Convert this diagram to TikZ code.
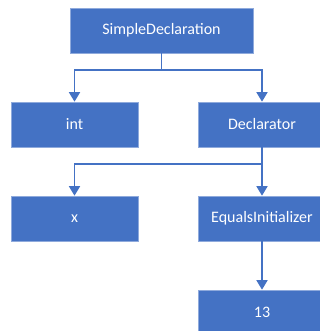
\documentclass[tikz,border=0pt]{standalone}
\usepackage{fontspec}
\setmainfont{Carlito}
\usetikzlibrary{arrows.meta}
\definecolor{boxblue}{HTML}{4472C4}
\definecolor{boxedge}{HTML}{8FAADC}
\tikzset{
  treebox/.style={rectangle, fill=boxblue, draw=boxedge, line width=0.6pt,
    minimum height=45pt, inner sep=0pt, text=white, font=\fontsize{16}{19}\selectfont},
  narrowbox/.style={treebox, minimum width=127pt},
  widebox/.style={treebox, minimum width=183pt},
  link/.style={draw=boxblue, line width=1.6pt, -{Triangle[width=11pt,length=9.5pt]}}
}
\begin{document}
\begin{tikzpicture}[x=1pt,y=1pt]
  \useasboundingbox (0,0) rectangle (320,331);
  \clip (0,0) rectangle (320,331);
  % nodes of the syntax tree
  \node[widebox]   (sd)   at (161.5,300.5) {SimpleDeclaration};
  \node[narrowbox] (int)  at (74.5,206.5)  {int};
  \node[narrowbox] (decl) at (262,206.5)   {Declarator};
  \node[narrowbox] (x)    at (74.5,112.5)  {x};
  \node[narrowbox] (eq)   at (262,112.5)   {EqualsInitializer};
  \node[narrowbox] (lit)  at (262,18.5)    {13};
  % parent-to-child links
  \draw[link] (sd.south) -- ++(0,-17) -| (int.north);
  \draw[link] (sd.south) -- ++(0,-17) -| (decl.north);
  \draw[link] (decl.south) -- ++(0,-17) -| (x.north);
  \draw[link] (decl.south) -- (eq.north);
  \draw[link] (eq.south) -- (lit.north);
\end{tikzpicture}
\end{document}
